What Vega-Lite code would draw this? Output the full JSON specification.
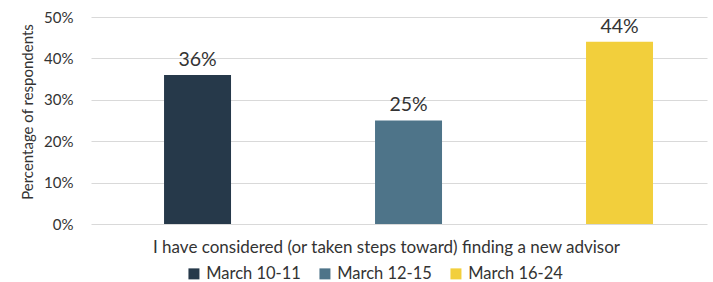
{
  "$schema": "https://vega.github.io/schema/vega-lite/v6.json",
  "width": 616,
  "height": 207,
  "autosize": {"type": "none"},
  "padding": {"left": 91, "top": 17, "right": 6, "bottom": 58},
  "background": "white",
  "config": {
    "view": {"stroke": null},
    "font": "Lato",
    "text": {"font": "Lato"}
  },
  "data": {
    "values": [
      {"category": "I have considered (or taken steps toward) finding a new advisor", "period": "March 10-11", "value": 0.36},
      {"category": "I have considered (or taken steps toward) finding a new advisor", "period": "March 12-15", "value": 0.25},
      {"category": "I have considered (or taken steps toward) finding a new advisor", "period": "March 16-24", "value": 0.44}
    ]
  },
  "encoding": {
    "x": {
      "field": "period",
      "type": "nominal",
      "sort": null,
      "scale": {"paddingInner": 0.6825, "paddingOuter": 0.301, "align": 0.575},
      "axis": {
        "title": "I have considered (or taken steps toward) finding a new advisor",
        "labels": false,
        "ticks": false,
        "domain": false,
        "titleFont": "Lato",
        "titleFontSize": 17,
        "titleFontWeight": "normal",
        "titleColor": "#333333",
        "titleX": 295,
        "titleY": 28.7,
        "titleAlign": "center",
        "titleBaseline": "alphabetic"
      }
    },
    "y": {
      "field": "value",
      "type": "quantitative",
      "scale": {"domain": [0, 0.5]},
      "axis": {
        "title": "Percentage of respondents",
        "format": ".0%",
        "values": [0, 0.1, 0.2, 0.3, 0.4, 0.5],
        "domain": false,
        "ticks": false,
        "labelPadding": 18,
        "labelFont": "Lato",
        "labelFontSize": 15,
        "labelColor": "#333333",
        "grid": true,
        "gridColor": "#d9d9d9",
        "gridWidth": 1,
        "titleFont": "Lato",
        "titleFontSize": 15,
        "titleFontWeight": "normal",
        "titleColor": "#333333",
        "titleX": -64,
        "titleY": 94.5,
        "titleAngle": -90,
        "titleAlign": "center",
        "titleBaseline": "middle"
      }
    }
  },
  "layer": [
    {
      "mark": {"type": "bar"},
      "encoding": {
        "color": {
          "field": "period",
          "type": "nominal",
          "sort": null,
          "scale": {"domain": ["March 10-11", "March 12-15", "March 16-24"], "range": ["#26394A", "#4E7489", "#F2CF3C"]},
          "legend": {
            "title": null,
            "orient": "none",
            "direction": "horizontal",
            "legendX": 94.7,
            "legendY": 248.5,
            "padding": 0,
            "symbolType": "square",
            "symbolSize": 121,
            "symbolStrokeWidth": 0,
            "symbolOpacity": 1,
            "labelFont": "Lato",
            "labelFontSize": 16.5,
            "labelColor": "#333333",
            "labelOffset": 4,
            "columnPadding": 15
          }
        }
      }
    },
    {
      "mark": {"type": "text", "baseline": "alphabetic", "dy": -9.3, "font": "Lato", "fontSize": 19.5, "color": "#333333"},
      "encoding": {
        "text": {"field": "value", "type": "quantitative", "format": ".0%"}
      }
    }
  ]
}
